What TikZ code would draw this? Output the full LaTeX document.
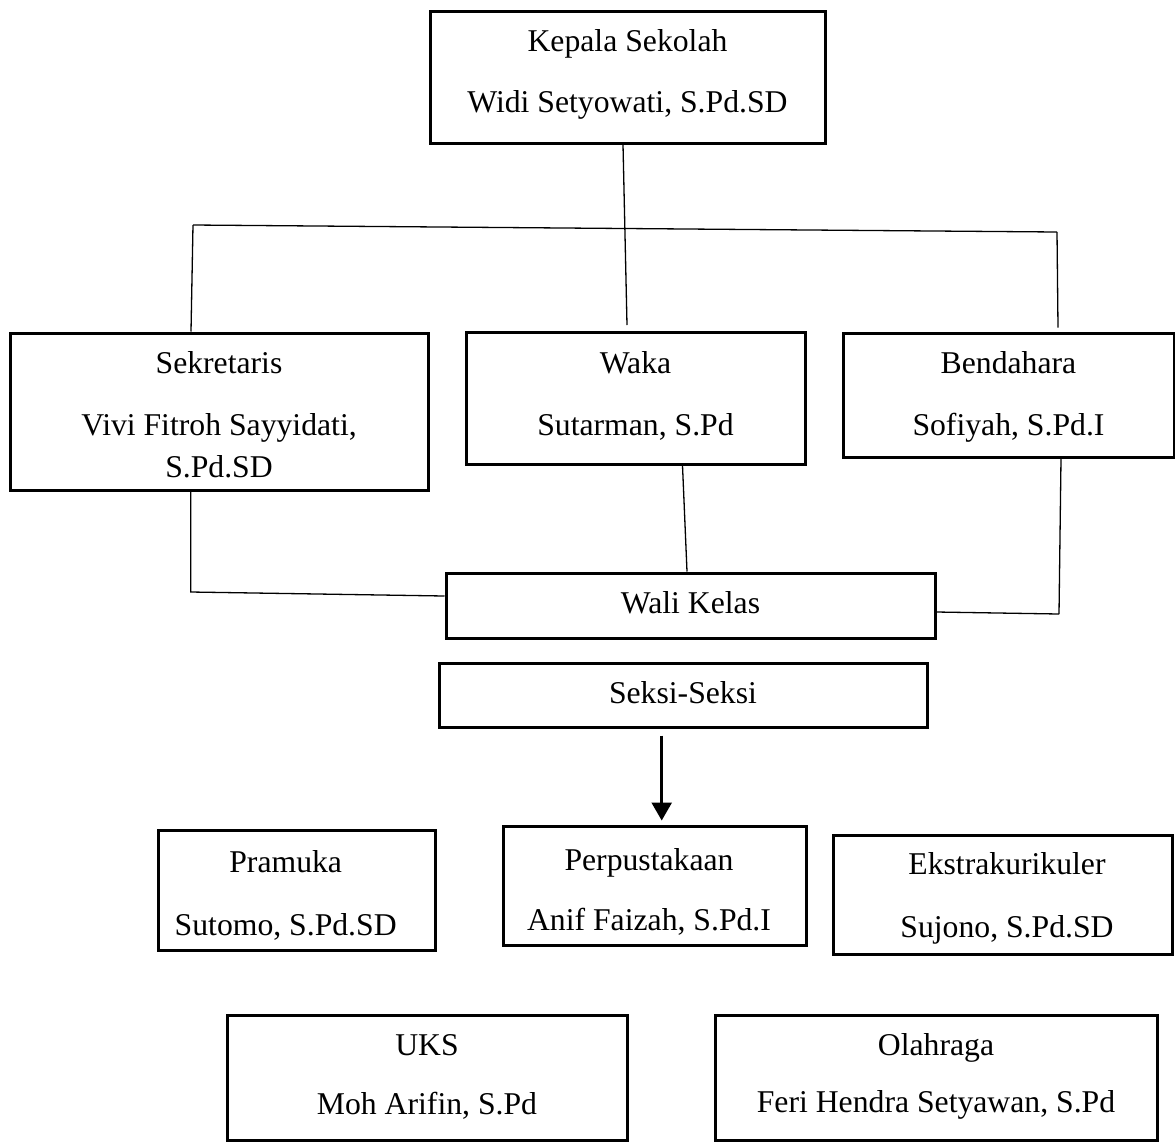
\documentclass[tikz,border=0pt]{standalone}
\usepackage{fontspec}
\setmainfont{Liberation Serif}
\usetikzlibrary{arrows.meta}
\begin{document}
\begin{tikzpicture}[x=1pt,y=-1pt,
  box/.style={draw=black,line width=3pt,rectangle,inner sep=0pt},
  txt/.style={anchor=base,inner sep=0pt,font=\fontsize{31.7pt}{38pt}\selectfont},
  conn/.style={draw=black,line width=1.3pt},
  arr/.style={draw=black,line width=2.6pt,-{Triangle[length=18pt,width=20pt]}}]
\useasboundingbox (0,0) rectangle (1175,1144);
% boxes
\node[box,minimum width=395pt,minimum height=132pt] (kp) at (627.5,77) {};
\node[box,minimum width=418pt,minimum height=157pt] (sek) at (219,411.5) {};
\node[box,minimum width=339pt,minimum height=132pt] (waka) at (635.5,398) {};
\node[box,minimum width=331pt,minimum height=124pt] (bend) at (1008.5,395) {};
\node[box,minimum width=489pt,minimum height=65pt] (wali) at (690.5,605.5) {};
\node[box,minimum width=488pt,minimum height=64pt] (seksi) at (683,695) {};
\node[box,minimum width=277.5pt,minimum height=120pt] (pram) at (296.75,890) {};
\node[box,minimum width=303pt,minimum height=119pt] (perp) at (654.5,885.5) {};
\node[box,minimum width=339pt,minimum height=119pt] (eks) at (1002.5,894.5) {};
\node[box,minimum width=400pt,minimum height=125pt] (uks) at (427,1077.5) {};
\node[box,minimum width=442pt,minimum height=125pt] (ola) at (936,1077.5) {};
% texts
\node[txt] (kpA) at (627.5,51) {Kepala Sekolah};
\node[txt] (kpB) at (627.5,112) {Widi Setyowati, S.Pd.SD};
\node[txt] (sekA) at (219,373) {Sekretaris};
\node[txt] (sekB) at (219,435) {Vivi Fitroh Sayyidati,};
\node[txt] (sekC) at (219,477) {S.Pd.SD};
\node[txt] (wakaA) at (635.5,373) {Waka};
\node[txt] (wakaB) at (635.5,435) {Sutarman, S.Pd};
\node[txt] (bendA) at (1008.5,373) {Bendahara};
\node[txt] (bendB) at (1008.5,435) {Sofiyah, S.Pd.I};
\node[txt] (waliA) at (690.5,613) {Wali Kelas};
\node[txt] (seksiA) at (683,703) {Seksi-Seksi};
\node[txt] (pramA) at (285.7,872) {Pramuka};
\node[txt] (pramB) at (285.7,935) {Sutomo, S.Pd.SD};
\node[txt] (perpA) at (649,870) {Perpustakaan};
\node[txt] (perpB) at (649,930) {Anif Faizah, S.Pd.I};
\node[txt] (eksA) at (1007,874) {Ekstrakurikuler};
\node[txt] (eksB) at (1007,937) {Sujono, S.Pd.SD};
\node[txt] (uksA) at (427,1055) {UKS};
\node[txt] (uksB) at (427,1114) {Moh Arifin, S.Pd};
\node[txt] (olaA) at (936,1055) {Olahraga};
\node[txt] (olaB) at (936,1112) {Feri Hendra Setyawan, S.Pd};
% connector coordinates
\coordinate (ctop) at (627,325);
\coordinate (hl) at (193,225);
\coordinate (hr) at (1057,232);
\coordinate (j1) at (190.7,592);
\coordinate (j2) at (1059,614);
% connectors
\draw[conn] ([xshift=-4.5pt]kp.south) -- (ctop);
\draw[conn] (hl) -- (hr);
\draw[conn] (hl) -- ([xshift=-28pt]sek.north);
\draw[conn] (hr) -- ([xshift=49.5pt,yshift=4pt]bend.north);
\draw[conn] ([xshift=-28.3pt]sek.south) -- (j1) -- ([yshift=9.5pt]wali.west);
\draw[conn] ([xshift=47pt]waka.south) -- ([xshift=-3.5pt]wali.north);
\draw[conn] ([xshift=52.5pt]bend.south) -- (j2);
\draw[conn] ([yshift=-6.5pt]wali.east) -- (j2);
\draw[arr] ([xshift=-21.3pt,yshift=-7pt]seksi.south) -- ([xshift=7.2pt,yshift=4pt]perp.north);
\end{tikzpicture}
\end{document}
